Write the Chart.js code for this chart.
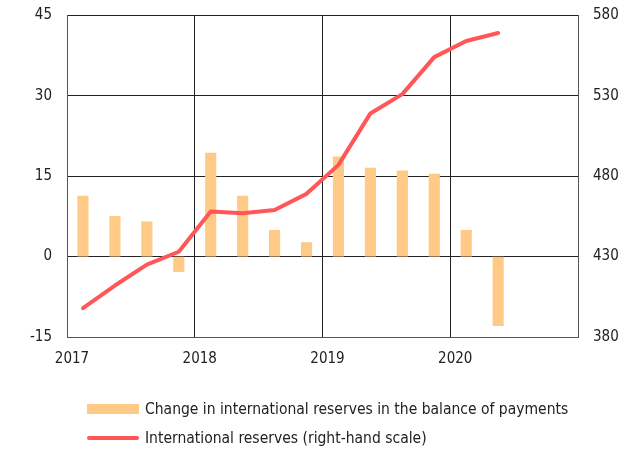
<!DOCTYPE html>
<html>
<head>
<meta charset="utf-8">
<script src="https://cdn.jsdelivr.net/npm/chart.js@4/dist/chart.umd.min.js"></script>
<style>
    body { margin: 0; background: #fff; }
    #wrap { position: relative; width: 635px; height: 450px; }
    #legend { position: absolute; left: 87px; top: 394px; font-family: "DejaVu Sans Condensed", sans-serif; font-size: 15.5px; color: #222; }
    .item { display: flex; align-items: center; height: 29px; }
    .swatch { width: 52px; margin-right: 6px; }
</style>
</head>
<body>
<div id="wrap">
    <canvas id="chart" width="635" height="450"></canvas>
    <div id="legend"></div>
</div>
<script>
const FONT = "'DejaVu Sans Condensed', sans-serif";

const quarters = ["2017Q1", "2017Q2", "2017Q3", "2017Q4",
                  "2018Q1", "2018Q2", "2018Q3", "2018Q4",
                  "2019Q1", "2019Q2", "2019Q3", "2019Q4",
                  "2020Q1", "2020Q2"];
const reserveChange = [11.3, 7.5, 6.5, -2.8, 19.3, 11.3, 4.9, 2.6, 18.6, 16.5, 16.0, 15.4, 4.9, -12.9];
const reserves      = [398, 412, 425, 433, 458, 457, 459, 469, 487, 519, 531, 554, 564, 569];
const yearTicks     = [2017, 2018, 2019, 2020];

const barColor  = "#ffca85";
const lineColor = "#ff5757";

// quarter -> middle of the quarter on a linear year axis
const xPos = quarters.map(q => {
    const year = parseInt(q.slice(0, 4));
    const qn   = parseInt(q.slice(5));
    return year + (qn - 0.5) / 4;
});

// tiny lineHeight: y labels are drawn centred anyway, this just stops
// chart.js from pushing the plot down to make room for half a label
const yFont = { family: FONT, size: 15, lineHeight: 0.04 };

const chart = new Chart(document.getElementById("chart"), {
    data: {
        datasets: [
            {
                type: "line",
                label: "International reserves (right-hand scale)",
                data: xPos.map((x, i) => ({ x, y: reserves[i] })),
                yAxisID: "y1",
                borderColor: lineColor,
                backgroundColor: lineColor,
                borderWidth: 4,
                borderCapStyle: "round",
                borderJoinStyle: "round",
                pointRadius: 0,
                tension: 0,
                order: 0,
            },
            {
                type: "bar",
                label: "Change in international reserves in the balance of payments",
                data: xPos.map((x, i) => ({ x, y: reserveChange[i] })),
                yAxisID: "y",
                backgroundColor: barColor,
                barThickness: 10.5,
                order: 1,
            }
        ]
    },
    options: {
        responsive: false,
        animation: false,
        layout: { padding: 0 },
        plugins: { legend: { display: false }, tooltip: { enabled: false } },
        scales: {
            x: {
                type: "linear",
                min: 2017,
                max: 2021,
                offset: false,
                afterBuildTicks: s => { s.ticks = [...yearTicks, 2021].map(v => ({ value: v })); },
                afterFit: s => { s.height = 113; },
                ticks: {
                    callback: v => yearTicks.includes(v) ? String(v) : "",
                    font: { family: FONT, size: 15 },
                    color: "#222",
                    padding: 13,
                    labelOffset: 5,
                    maxRotation: 0,
                },
                grid: { color: "#222", lineWidth: 1, drawTicks: false, offset: false },
                border: { color: "#555", width: 1 },
            },
            y: {
                position: "left",
                min: -15,
                max: 45,
                afterFit: s => { s.width = 67; },
                ticks: { stepSize: 15, font: yFont, color: "#222", padding: 15 },
                grid: { color: "#222", lineWidth: 1, drawTicks: false },
                border: { color: "#555", width: 1 },
            },
            y1: {
                position: "right",
                min: 380,
                max: 580,
                afterFit: s => { s.width = 57; },
                ticks: { stepSize: 50, font: yFont, color: "#222", padding: 15 },
                grid: { drawOnChartArea: false, drawTicks: false },
                border: { color: "#555", width: 1 },
            }
        }
    }
});

// legend, built from the datasets, bar item first
const legend = document.getElementById("legend");
[...chart.data.datasets].reverse().forEach(ds => {
    const item = document.createElement("div");
    item.className = "item";
    const sw = document.createElement("span");
    sw.className = "swatch";
    if (ds.type === "bar") {
        sw.style.height = "10px";
        sw.style.background = ds.backgroundColor;
    } else {
        sw.style.height = "4px";
        sw.style.borderRadius = "2px";
        sw.style.background = ds.borderColor;
    }
    const txt = document.createElement("span");
    txt.textContent = ds.label;
    item.appendChild(sw);
    item.appendChild(txt);
    legend.appendChild(item);
});
</script>
</body>
</html>
